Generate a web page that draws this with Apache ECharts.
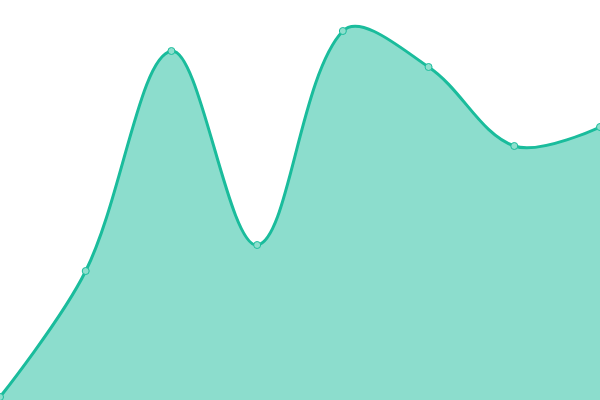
<!DOCTYPE html>
<html>
<head>
<meta charset="utf-8">
<script src="https://cdn.jsdelivr.net/npm/echarts@6/dist/echarts.min.js"></script>
<style>html,body{margin:0;padding:0;background:#fff}#chart{width:600px;height:400px}</style>
</head>
<body>
<div id="chart"></div>
<script>
var categories = ['1', '2', '3', '4', '5', '6', '7', '8'];
var values = [3, 129, 349, 155, 369, 333, 254, 273];

var SMOOTH = 0.35;

// bezier control points, old-style smoothing without clamping
function controlPoints(pts) {
    var cps = [];
    for (var i = 0; i < pts.length; i++) {
        var p = pts[i];
        if (i === 0 || i === pts.length - 1) {
            cps.push([p, p]);
            continue;
        }
        var prev = pts[i - 1], next = pts[i + 1];
        var vx = (next[0] - prev[0]) * SMOOTH, vy = (next[1] - prev[1]) * SMOOTH;
        var d0 = Math.hypot(p[0] - prev[0], p[1] - prev[1]);
        var d1 = Math.hypot(next[0] - p[0], next[1] - p[1]);
        var sum = d0 + d1;
        d0 /= sum; d1 /= sum;
        cps.push([[p[0] - vx * d0, p[1] - vy * d0], [p[0] + vx * d1, p[1] + vy * d1]]);
    }
    return cps;
}

function renderCurve(params, api) {
    if (params.dataIndex !== 0) return null;
    var pts = values.map(function (v, i) { return api.coord([i, v]); });
    var cps = controlPoints(pts);
    var d = 'M' + pts[0][0] + ' ' + pts[0][1];
    for (var i = 1; i < pts.length; i++) {
        var a = cps[i - 1][1], b = cps[i][0];
        d += ' C' + a[0] + ' ' + a[1] + ' ' + b[0] + ' ' + b[1] + ' ' + pts[i][0] + ' ' + pts[i][1];
    }
    var base0 = api.coord([pts.length - 1, 0]), base1 = api.coord([0, 0]);
    var area = d + ' L' + base0[0] + ' ' + base0[1] + ' L' + base1[0] + ' ' + base1[1] + ' Z';
    return {
        type: 'group',
        children: [
            { type: 'path', shape: { pathData: area }, style: { fill: 'rgba(26,188,156,0.5)', stroke: null } },
            { type: 'path', shape: { pathData: d }, style: { fill: null, stroke: '#1abc9c', lineWidth: 3 } }
        ]
    };
}

var chart = echarts.init(document.getElementById('chart'));
var option = {
    animation: false,
    grid: { left: 0, right: 0, top: 0, bottom: 0 },
    xAxis: {
        type: 'category',
        boundaryGap: false,
        data: categories,
        show: false
    },
    yAxis: {
        type: 'value',
        min: 0,
        max: 400,
        show: false
    },
    series: [{
        type: 'custom',
        renderItem: renderCurve,
        data: values.map(function (v, i) { return [i, v]; }),
        z: 1
    }, {
        type: 'scatter',
        data: values,
        symbol: 'circle',
        symbolSize: 7,
        itemStyle: { color: '#8ddfcd', borderColor: '#1abc9c', borderWidth: 1, opacity: 1 },
        z: 3
    }]
};
chart.setOption(option);
</script>
</body>
</html>
